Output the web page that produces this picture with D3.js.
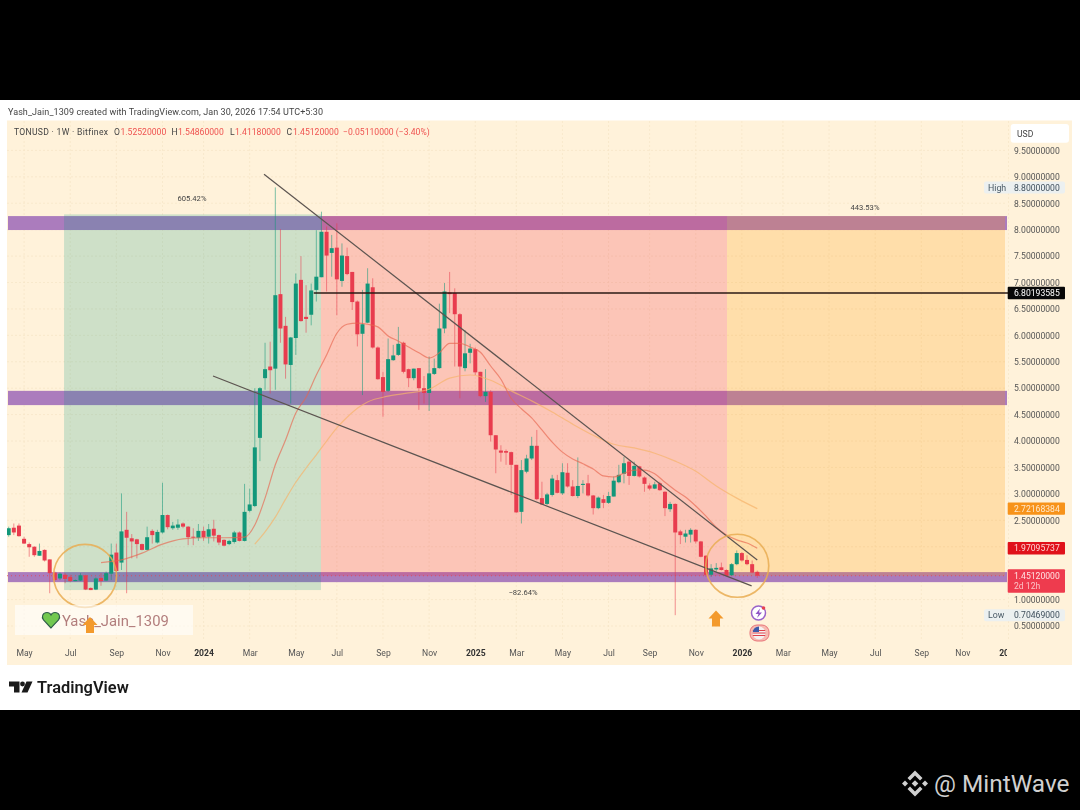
<!DOCTYPE html>
<html>
<head>
<meta charset="utf-8">
<script src="https://cdn.jsdelivr.net/npm/d3@7"></script>
<style>
  html, body { margin: 0; padding: 0; background: #000; }
  svg { display: block; }
  text { font-family: Roboto, sans-serif; }
</style>
</head>
<body>
<svg id="chart" width="1080" height="810"></svg>
<script>
// weekly candles, one row = 10 weeks, first candle is the week of 2023-04-10
const opens = [
  2.22,2.36,2.40,2.15,2.05,2.00,1.83,1.94,1.76,1.51,
  1.40,1.47,1.43,1.35,1.36,1.46,1.22,1.19,1.41,1.36,
  1.49,1.89,1.70,2.32,2.16,2.14,2.05,1.94,2.30,2.08,
  2.27,2.60,2.35,2.36,2.44,2.38,2.19,2.17,2.30,2.19,
  2.34,2.22,2.13,2.05,2.09,2.27,2.11,2.68,2.77,4.06,
  5.19,5.41,5.37,6.78,6.18,5.44,5.95,7.05,6.35,6.39,
  6.86,7.10,7.96,7.56,7.66,7.03,7.50,7.20,6.64,6.03,
  6.24,6.91,5.77,5.21,4.95,5.53,5.63,5.86,5.36,5.19,
  5.38,5.00,4.91,5.27,5.38,6.13,6.81,6.80,6.40,5.38,
  5.67,5.74,5.31,4.85,4.93,4.11,3.82,3.81,3.79,3.55,
  2.66,3.42,3.67,3.91,2.92,2.81,2.98,3.26,3.01,3.40,
  3.14,2.96,3.17,3.20,2.97,2.73,2.90,2.83,2.95,3.22,
  3.38,3.61,3.34,3.52,3.31,3.16,3.10,3.20,3.04,2.71,
  2.81,2.29,2.19,2.23,2.32,2.10,1.83,1.47,1.57,1.61,
  1.56,1.46,1.67,1.88,1.75,1.67,1.5252]
const highs = [
  2.38,2.44,2.44,2.19,2.08,2.01,2.06,1.95,1.76,1.53,
  1.51,1.50,1.47,1.38,1.50,1.47,1.23,1.42,1.50,1.53,
  2.06,2.06,3.01,2.66,2.24,2.15,2.06,2.38,2.33,2.32,
  3.21,2.61,2.47,2.52,2.46,2.39,2.35,2.43,2.38,2.43,
  2.51,2.23,2.14,2.13,2.30,2.29,3.19,3.10,5.00,5.02,
  5.86,5.88,8.80,8.01,6.35,5.97,7.17,7.50,6.95,6.98,
  7.99,8.34,8.06,7.90,8.12,7.74,7.66,7.20,6.66,6.86,
  7.27,7.08,5.79,5.31,5.94,5.82,6.16,5.88,5.37,5.37,
  5.38,5.23,5.60,5.56,6.60,6.99,7.20,6.89,6.42,6.10,
  5.84,5.77,5.31,5.36,4.96,4.11,3.92,3.84,3.80,3.55,
  3.64,3.74,4.08,4.21,3.23,3.02,3.36,3.36,3.58,3.58,
  3.26,3.69,3.26,3.36,2.98,2.95,2.98,3.04,3.33,3.55,
  3.70,3.64,3.61,3.53,3.33,3.20,3.23,3.23,3.05,2.85,
  2.82,2.32,2.32,2.35,2.33,2.11,1.84,1.67,1.69,1.70,
  1.57,1.69,1.93,1.90,1.84,1.74,1.5486]
const lows = [
  2.19,2.22,2.19,2.05,1.81,1.81,1.83,1.72,1.12,1.34,
  1.37,1.31,1.33,1.35,1.35,1.18,1.18,1.18,1.26,1.35,
  1.37,1.37,1.56,1.12,1.78,1.78,1.93,1.93,2.06,2.06,
  2.25,2.33,2.32,2.32,2.35,2.03,2.03,2.11,2.11,2.06,
  2.10,2.03,2.01,2.03,2.06,2.10,2.10,2.65,2.75,3.62,
  4.97,4.90,4.97,5.86,5.18,4.71,5.63,6.26,6.05,6.19,
  6.64,7.10,6.83,7.11,6.38,6.92,7.14,6.48,5.79,4.87,
  6.23,5.75,5.16,4.46,4.93,5.52,5.61,5.28,5.02,5.15,
  4.59,4.71,4.57,5.25,5.37,6.04,6.42,5.41,4.81,5.32,
  5.47,5.25,4.83,4.74,3.99,3.39,3.61,3.55,2.98,2.64,
  2.44,3.39,3.64,2.88,2.79,2.79,2.95,3.01,2.98,3.12,
  2.95,2.92,3.01,2.95,2.61,2.71,2.73,2.81,2.95,3.20,
  3.20,3.17,3.33,3.31,3.04,3.07,3.09,3.06,2.58,2.66,
  0.70469,2.05,2.08,2.08,2.06,1.80,1.43,1.43,1.53,1.55,
  1.43,1.45,1.65,1.72,1.65,1.50,1.4118]
const closes = [
  2.35,2.27,2.20,2.06,1.99,1.84,1.92,1.74,1.50,1.37,
  1.49,1.39,1.35,1.37,1.46,1.19,1.18,1.40,1.35,1.50,
  1.85,1.54,2.29,2.17,2.10,2.05,1.94,2.18,2.22,2.28,
  2.60,2.37,2.40,2.42,2.38,2.18,2.18,2.30,2.18,2.33,
  2.21,2.08,2.02,2.11,2.27,2.11,2.66,2.80,3.88,5.00,
  5.36,5.34,6.76,6.13,5.45,5.96,6.98,6.27,6.31,6.85,
  7.11,7.96,7.51,7.65,7.06,7.51,7.16,6.63,6.02,6.21,
  6.98,5.77,5.17,4.93,5.55,5.62,5.84,5.31,5.19,5.37,
  5.00,4.91,5.28,5.38,6.13,6.83,6.78,6.40,5.41,5.66,
  5.75,5.30,4.85,4.93,4.11,3.84,3.78,3.78,3.55,2.65,
  3.45,3.67,3.91,2.90,2.80,2.99,3.29,3.02,3.41,3.14,
  2.96,3.15,3.19,2.97,2.73,2.93,2.83,2.96,3.25,3.36,
  3.58,3.34,3.53,3.33,3.19,3.10,3.18,3.07,2.73,2.81,
  2.27,2.22,2.25,2.32,2.10,1.81,1.47,1.59,1.60,1.56,
  1.45,1.67,1.88,1.74,1.67,1.51,1.4512]

// moving averages at these week numbers
const fastWeeks = [18,22,26,30,34,38,42,46,48,50,52,54,56,58,60,62,64,66,68,70,72,74,76,78,80,82,84,86,88,90,92,94,96,98,100,102,104,106,108,110,112,114,116,118,120,122,124,126,128,130,132,134,136,138,140,142,144,146]
const fastValues = [1.70,1.75,1.88,2.05,2.15,2.17,2.17,2.18,2.41,2.92,3.55,4.02,4.53,4.83,5.25,5.63,6.04,6.21,6.23,6.21,6.16,5.99,5.89,5.78,5.67,5.57,5.67,5.85,5.85,5.78,5.68,5.42,5.17,4.81,4.61,4.44,4.21,3.98,3.79,3.66,3.57,3.47,3.34,3.32,3.39,3.45,3.45,3.38,3.22,3.07,2.94,2.77,2.58,2.37,2.22,2.13,2.07,1.97]
const slowWeeks = [48,50,52,54,56,58,60,62,64,66,68,70,74,78,82,86,90,94,98,102,106,110,114,118,122,126,130,134,138,142,146]
const slowValues = [2.05,2.28,2.56,2.90,3.22,3.49,3.74,4.00,4.25,4.45,4.62,4.74,4.85,4.91,4.98,5.19,5.25,5.15,4.95,4.76,4.55,4.32,4.11,3.94,3.87,3.77,3.62,3.43,3.15,2.92,2.72]

const priceTicks = [0.5,1,2.5,3,3.5,4,4.5,5,5.5,6,6.5,7,7.5,8,8.5,9,9.5]
const gridPrices = [0.5,1,1.5,2,2.5,3,3.5,4,4.5,5,5.5,6,6.5,7,7.5,8,8.5,9,9.5]
const monthTicks = ['2023-05-01','2023-07-03','2023-09-04','2023-11-06','2024-01-01','2024-03-04','2024-05-06','2024-07-01','2024-09-02','2024-11-04','2025-01-06','2025-03-03','2025-05-05','2025-07-07','2025-09-01','2025-11-03','2026-01-05','2026-03-02','2026-05-04','2026-07-06','2026-09-07','2026-11-02','2027-01-04']

// drawings on the chart: price levels and week numbers
const bandPrices = [[7.993,8.257],[4.68,4.95],[1.33,1.52]]
const upperTrendWeeks = [49.8,146], upperTrendPrices = [9.05,1.75]
const lowerTrendWeeks = [39.85,144.9], lowerTrendPrices = [5.23,1.26]
const hLinePrice = 6.80193585, hLineStartWeek = 59.5
const lastClose = 1.4512
const zoneWeeks = [10.8,60.9,140.1]
const zoneTop = 8.29, zoneGreenBottom = 1.18
const circleWeeks = [14.9,142.1], circlePrices = [1.45,1.64]

const parse = d3.utcParse('%Y-%m-%d')
const firstWeek = parse('2023-04-10')
const weekDate = w => d3.utcHour.offset(firstWeek, Math.round(w * 168))

const plotRight = 1005
const x = d3.scaleUtc().domain([firstWeek, parse('2027-01-04')]).range([8.7, 1008.5])
const y = d3.scaleLinear().domain([0.5, 9.5]).range([626, 150.4])
const xw = w => x(weekDate(w))

const root = d3.select('#chart')

// page frame, stays sharp
root.append('rect').attr('x', 0).attr('y', 100).attr('width', 1080).attr('height', 610).attr('fill', '#fff')

// the screenshot is soft, so the chart part gets a slight blur
const svg = root.append('g').style('filter', 'blur(0.4px)')
svg.append('rect').attr('x', 7).attr('y', 120.5).attr('width', 1065).attr('height', 544.5).attr('fill', '#fff2da')

root.append('defs').append('clipPath').attr('id', 'plot-clip')
  .append('rect').attr('x', 7).attr('y', 120).attr('width', plotRight - 7).attr('height', 545)
root.select('defs').append('clipPath').attr('id', 'axis-clip')
  .append('rect').attr('x', 7).attr('y', 640).attr('width', 1000).attr('height', 25)

svg.append('text').attr('x', 8).attr('y', 114.5).attr('font-size', 9).attr('letter-spacing', 0.08).attr('fill', '#444')
  .text('Yash_Jain_1309 created with TradingView.com, Jan 30, 2026 17:54 UTC+5:30')

// grid
const grid = svg.append('g').attr('stroke', '#f6e6c8').attr('stroke-width', 0.8).attr('stroke-dasharray', '2,2')
grid.selectAll('line.h').data(gridPrices).join('line').attr('class', 'h')
  .attr('x1', 7).attr('x2', plotRight).attr('y1', d => y(d)).attr('y2', d => y(d))
grid.selectAll('line.v').data(monthTicks).join('line').attr('class', 'v')
  .attr('x1', d => x(parse(d))).attr('x2', d => x(parse(d))).attr('y1', 121).attr('y2', 640)

// purple support / resistance bands
svg.append('g').selectAll('rect').data(bandPrices).join('rect')
  .attr('x', 8).attr('width', 999)
  .attr('y', d => y(d[1])).attr('height', d => y(d[0]) - y(d[1]))
  .attr('fill', '#ab7cbd')

// position zones sit on top of the bands
const zones = svg.append('g')
zones.append('rect').attr('x', xw(zoneWeeks[0])).attr('width', xw(zoneWeeks[1]) - xw(zoneWeeks[0]))
  .attr('y', y(zoneTop)).attr('height', y(zoneGreenBottom) - y(zoneTop))
  .attr('fill', '#089981').attr('fill-opacity', 0.2)
zones.append('rect').attr('x', xw(zoneWeeks[1])).attr('width', xw(zoneWeeks[2]) - xw(zoneWeeks[1]))
  .attr('y', y(8.257)).attr('height', y(lastClose) - y(8.257))
  .attr('fill', '#f23645').attr('fill-opacity', 0.24)
zones.append('rect').attr('x', xw(zoneWeeks[2])).attr('width', plotRight - xw(zoneWeeks[2]))
  .attr('y', y(8.257)).attr('height', y(lastClose) - y(8.257))
  .attr('fill', '#ff9800').attr('fill-opacity', 0.22)

// last price dotted line
svg.append('line').attr('x1', 7).attr('x2', plotRight).attr('y1', y(lastClose)).attr('y2', y(lastClose))
  .attr('stroke', '#e8404f').attr('stroke-width', 0.8).attr('stroke-dasharray', '1,3')

// candles
const candleData = opens.map((o, i) => ({ i, o, h: highs[i], l: lows[i], c: closes[i] }))
const candleColor = d => (d.c >= d.o ? '#12977a' : '#e83c4e')
const candles = svg.append('g').attr('clip-path', 'url(#plot-clip)')
candles.selectAll('line').data(candleData).join('line')
  .attr('x1', d => xw(d.i)).attr('x2', d => xw(d.i))
  .attr('y1', d => y(d.h)).attr('y2', d => y(d.l))
  .attr('stroke', candleColor).attr('stroke-width', 1).attr('stroke-opacity', 0.55)
candles.selectAll('rect').data(candleData).join('rect')
  .attr('x', d => xw(d.i) - 2).attr('width', 4)
  .attr('y', d => y(Math.max(d.o, d.c)))
  .attr('height', d => Math.max(1, Math.abs(y(d.o) - y(d.c))))
  .attr('fill', candleColor)

// moving averages
const maLine = d3.line().x(d => xw(d[0])).y(d => y(d[1])).curve(d3.curveMonotoneX)
svg.append('path').attr('d', maLine(slowWeeks.map((w, i) => [w, slowValues[i]])))
  .attr('fill', 'none').attr('stroke', '#f6b36b').attr('stroke-width', 1.2).attr('stroke-opacity', 0.7)
svg.append('path').attr('d', maLine(fastWeeks.map((w, i) => [w, fastValues[i]])))
  .attr('fill', 'none').attr('stroke', '#e8654f').attr('stroke-width', 1.2).attr('stroke-opacity', 0.65)

// trend lines and horizontal level
const trend = (weeks, prices) => svg.append('line')
  .attr('x1', xw(weeks[0])).attr('y1', y(prices[0])).attr('x2', xw(weeks[1])).attr('y2', y(prices[1]))
  .attr('stroke', '#5c5450').attr('stroke-width', 1.2)
trend(upperTrendWeeks, upperTrendPrices)
trend(lowerTrendWeeks, lowerTrendPrices)
svg.append('line').attr('x1', xw(hLineStartWeek)).attr('x2', 1008).attr('y1', y(hLinePrice)).attr('y2', y(hLinePrice))
  .attr('stroke', '#2b1a14').attr('stroke-width', 1.6)

// circles round the two lows
svg.append('g').selectAll('circle').data(circleWeeks).join('circle')
  .attr('cx', d => xw(d)).attr('cy', (d, i) => y(circlePrices[i])).attr('r', 31.5)
  .attr('fill', 'none').attr('stroke', '#e9ad52').attr('stroke-width', 1.7).attr('stroke-opacity', 0.85)

// percent labels of the position tool
const pctLabel = (px, py, s) => svg.append('text').attr('x', px).attr('y', py)
  .attr('text-anchor', 'middle').attr('font-size', 7.6).attr('fill', '#444').text(s)
pctLabel(192, 200.5, '605.42%')
pctLabel(865, 209.5, '443.53%')
pctLabel(523, 594.5, '\u221282.64%')

// watermark box
svg.append('rect').attr('x', 15).attr('y', 605).attr('width', 178).attr('height', 30)
  .attr('fill', '#fff').attr('fill-opacity', 0.6)
svg.append('text').attr('x', 62).attr('y', 626).attr('font-size', 14.8).attr('fill', '#b27d7c')
  .attr('font-family', 'Lato, sans-serif').text('Yash_Jain_1309')
svg.append('path').attr('d', 'M51 628 L43.5 620 C41 616.5 43 612.5 47 612.5 C49 612.5 50.3 613.5 51 615 C51.7 613.5 53 612.5 55 612.5 C59 612.5 61 616.5 58.5 620 Z')
  .attr('fill', '#72c84f').attr('stroke', '#2f5d4a').attr('stroke-width', 1.1)

// orange arrows
const arrow = (cx, top) => svg.append('path')
  .attr('d', `M${cx} ${top} L${cx + 7.5} ${top + 8} L${cx + 4} ${top + 8} L${cx + 4} ${top + 16} L${cx - 4} ${top + 16} L${cx - 4} ${top + 8} L${cx - 7.5} ${top + 8} Z`)
  .attr('fill', '#f39a2d')
arrow(90, 617)
arrow(716, 610.5)

// event icons
const ev = svg.append('g')
ev.append('circle').attr('cx', 758.5).attr('cy', 613).attr('r', 7).attr('fill', '#fff').attr('stroke', '#9a63c9').attr('stroke-width', 1.5)
ev.append('path').attr('d', 'M760 608.5 L755.5 614 L758.5 614 L757 618 L762 612.5 L759 612.5 Z').attr('fill', '#8f55c6')
ev.append('circle').attr('cx', 763.5).attr('cy', 608).attr('r', 1.8).attr('fill', '#e8404f')
ev.append('rect').attr('x', 750).attr('y', 625).attr('width', 19).attr('height', 16).attr('rx', 7).attr('fill', '#f7b9b0').attr('stroke', '#e8757a').attr('stroke-width', 1)
ev.append('circle').attr('cx', 759).attr('cy', 633).attr('r', 6.5).attr('fill', '#f4f0f0')
ev.append('path').attr('d', 'M752.8 630.5 H765.2 M752.5 633 H765.5 M752.8 635.5 H765.2').attr('stroke', '#e0404a').attr('stroke-width', 1.2)
ev.append('path').attr('d', 'M759 626.5 A6.5 6.5 0 0 0 752.7 632 H759 Z').attr('fill', '#3d5aa8')

// time axis, the last year label runs out of the pane
const xAxis = d3.axisBottom(x).tickValues(monthTicks.map(parse)).tickSize(0)
  .tickFormat(d => (d.getUTCMonth() === 0 ? d3.utcFormat('%Y')(d) : d3.utcFormat('%b')(d)))
const xAxisG = svg.append('g').attr('clip-path', 'url(#axis-clip)')
  .append('g').attr('transform', 'translate(0,647)').call(xAxis)
xAxisG.select('.domain').remove()
xAxisG.selectAll('text').attr('font-size', 8.6).attr('font-family', 'Roboto, sans-serif')
  .attr('font-weight', d => (d.getUTCMonth() === 0 ? 700 : 400))
  .attr('fill', d => (d.getUTCMonth() === 0 ? '#333' : '#555'))

// price axis
const priceFormat = d3.format('.8f')
const yAxis = d3.axisRight(y).tickValues(priceTicks).tickSize(0).tickFormat(priceFormat)
const yAxisG = svg.append('g').attr('transform', 'translate(1011,0)').call(yAxis)
yAxisG.select('.domain').remove()
yAxisG.selectAll('text').attr('font-size', 8.6).attr('fill', '#555')
  .attr('font-family', 'Roboto, sans-serif')

svg.append('rect').attr('x', 1010.7).attr('y', 124).attr('width', 58.3).attr('height', 18.7).attr('rx', 3).attr('fill', '#fff')
svg.append('text').attr('x', 1017).attr('y', 136.5).attr('font-size', 8.6).attr('fill', '#444').text('USD')

// price tags
const tag = (price, fill, color, h, sub) => {
  const cy = y(price)
  const top = sub ? cy - 6.5 : cy - h / 2
  svg.append('rect').attr('x', 1007.7).attr('y', top).attr('width', 57.3).attr('height', h).attr('rx', 1).attr('fill', fill)
  svg.append('text').attr('x', 1014).attr('y', cy + 3.2).attr('font-size', 8.6)
    .attr('fill', color).text(priceFormat(price))
  if (sub) svg.append('text').attr('x', 1014).attr('y', cy + 13.5).attr('font-size', 8.6).attr('fill', color).attr('fill-opacity', 0.8).text(sub)
}
tag(6.80193585, '#080808', '#fff', 12.6)
tag(2.72168384, '#f7931a', '#ffe9cc', 12.4)
tag(1.97095737, '#e0111a', '#ffd6d6', 12.6)
tag(1.4512, '#ee3b4e', '#ffe3e3', 23.4, '2d 12h')

const extreme = (price, label) => {
  const cy = y(price)
  svg.append('rect').attr('x', 984).attr('y', cy - 6).attr('width', 81).attr('height', 12).attr('rx', 2).attr('fill', '#ecf0f0')
  svg.append('text').attr('x', 988).attr('y', cy + 3.2).attr('font-size', 8.8).attr('fill', '#4a5a66').text(label)
  svg.append('text').attr('x', 1014).attr('y', cy + 3.2).attr('font-size', 8.6)
    .attr('fill', '#3f4f5c').text(priceFormat(price))
}
extreme(8.8, 'High')
extreme(0.70469, 'Low')

// legend line
const legend = svg.append('text').attr('y', 135).attr('font-size', 8.6)
const legendParts = [
  [14, '#444', 'TONUSD \u00b7 1W \u00b7 Bitfinex'], [114, '#444', 'O'], [120.5, '#ef5350', '1.52520000'],
  [171.5, '#444', 'H'], [178, '#ef5350', '1.54860000'], [230, '#444', 'L'], [235, '#ef5350', '1.41180000'],
  [286.5, '#444', 'C'], [293, '#ef5350', '1.45120000'], [343, '#ef5350', '\u22120.05110000 (\u22123.40%)']
]
legend.selectAll('tspan').data(legendParts).join('tspan')
  .attr('x', d => d[0]).attr('fill', d => d[1])
  .attr('letter-spacing', (d, i) => (i === 0 ? 0.3 : 0)).text(d => d[2])

// TradingView logo
const logo = svg.append('g').attr('fill', '#1a1a1a')
logo.append('path').attr('d', 'M9 681.5 H19.5 V692.5 H14 V686.5 H9 Z')
logo.append('circle').attr('cx', 22.5).attr('cy', 684).attr('r', 2.4)
logo.append('path').attr('d', 'M26.5 681.5 H32.5 L27.5 692.5 H21.5 Z')
svg.append('text').attr('x', 37).attr('y', 692.5).attr('font-size', 16.4).attr('font-weight', 600)
  .attr('font-family', 'Inter, sans-serif').attr('fill', '#1a1a1a').text('TradingView')

// MintWave watermark
const mw = root.append('g').attr('fill', '#d0d0d0')
const diamond = (cx, cy, r) => mw.append('path').attr('d', `M${cx} ${cy - r} L${cx + r} ${cy} L${cx} ${cy + r} L${cx - r} ${cy} Z`)
diamond(915, 783.5, 3.3)
diamond(905, 783.5, 3)
diamond(925, 783.5, 3)
mw.append('path').attr('d', 'M915 770.5 L922.5 778 L920 780.5 L915 775.5 L910 780.5 L907.5 778 Z')
mw.append('path').attr('d', 'M915 796.5 L922.5 789 L920 786.5 L915 791.5 L910 786.5 L907.5 789 Z')
root.append('text').attr('x', 934).attr('y', 792).attr('font-size', 24.4).attr('fill', '#d0d0d0')
  .attr('font-family', '"Noto Sans", sans-serif').text('@ MintWave')
</script>
</body>
</html>
